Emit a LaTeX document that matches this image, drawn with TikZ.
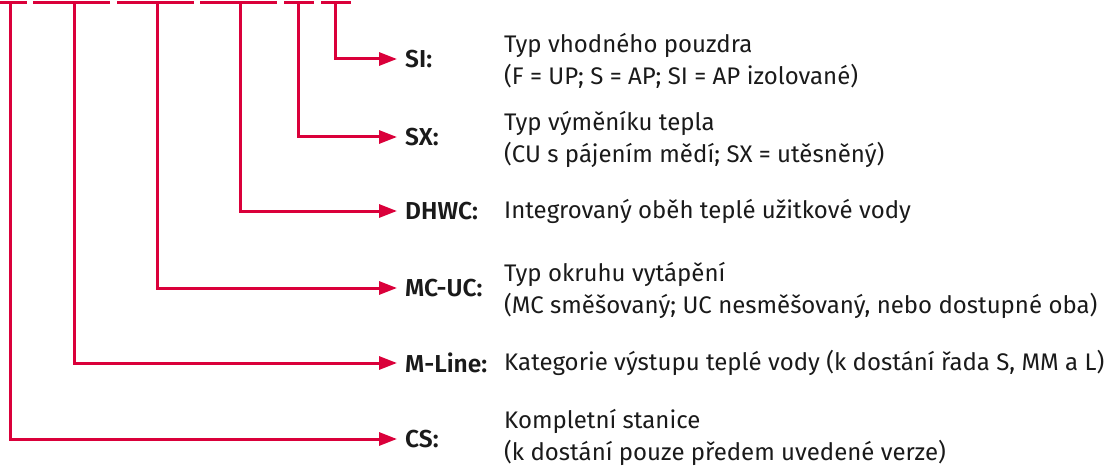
\documentclass[tikz,border=0pt]{standalone}
\usepackage{fontspec}
\setmainfont{Fira Sans}[BoldFont={Fira Sans SemiBold}]
\usetikzlibrary{arrows.meta}
\definecolor{crimson}{RGB}{218,0,58}
\definecolor{ink}{RGB}{26,26,26}

\tikzset{
  bar/.style={draw=crimson, line width=3pt},
  conn/.style={draw=crimson, line width=3pt, -{Triangle[length=18pt,width=13pt]}},
  key/.style={anchor=west, inner xsep=8pt, inner ysep=0pt, text=ink,
    font=\fontsize{24.5}{31}\selectfont\bfseries},
  desc/.style={anchor=west, inner sep=0pt, align=left, text=ink,
    font=\fontsize{24}{32}\selectfont}
}

\begin{document}
\begin{tikzpicture}[x=1pt,y=-1pt]
\useasboundingbox (0,0) rectangle (1116,468);

% code segments on top
\draw[bar] (0,2.5) -- (27,2.5);
\draw[bar] (33,2.5) -- (110,2.5);
\draw[bar] (117,2.5) -- (194,2.5);
\draw[bar] (200,2.5) -- (277,2.5);
\draw[bar] (284,2.5) -- (314,2.5);
\draw[bar] (321,2.5) -- (351,2.5);

\coordinate (c1) at (10,2.5);
\coordinate (c2) at (74,2.5);
\coordinate (c3) at (157,2.5);
\coordinate (c4) at (240,2.5);
\coordinate (c5) at (298,2.5);
\coordinate (c6) at (335,2.5);

% keys
\node[key] (si) at (397,59) {SI:};
\node[key] (sx) at (397,137) {SX:};
\node[key] (dhwc) at (397,211) {DHWC:};
\node[key] (mcuc) at (397,288) {MC-UC:};
\node[key] (mline) at (397,363) {M-Line:};
\node[key] (cs) at (397,439) {CS:};

% descriptions
\node[desc] (dsi) at (504,61) {Typ vhodného pouzdra\\(F = UP; S = AP; SI = AP izolované)};
\node[desc] (dsx) at (504,139) {Typ výměníku tepla\\(CU s pájením mědí; SX = utěsněný)};
\node[desc] (ddhwc) at (504,211) {Integrovaný oběh teplé užitkové vody};
\node[desc] (dmcuc) at (504,290) {Typ okruhu vytápění\\(MC směšovaný; UC nesměšovaný, nebo dostupné oba)};
\node[desc] (dmline) at (504,363) {Kategorie výstupu teplé vody (k dostání řada S, MM a L)};
\node[desc] (dcs) at (504,437) {Kompletní stanice\\(k dostání pouze předem uvedené verze)};

% connectors
\draw[conn] (c1) |- (cs.west);
\draw[conn] (c2) |- (mline.west);
\draw[conn] (c3) |- (mcuc.west);
\draw[conn] (c4) |- (dhwc.west);
\draw[conn] (c5) |- (sx.west);
\draw[conn] (c6) |- (si.west);
\end{tikzpicture}
\end{document}
